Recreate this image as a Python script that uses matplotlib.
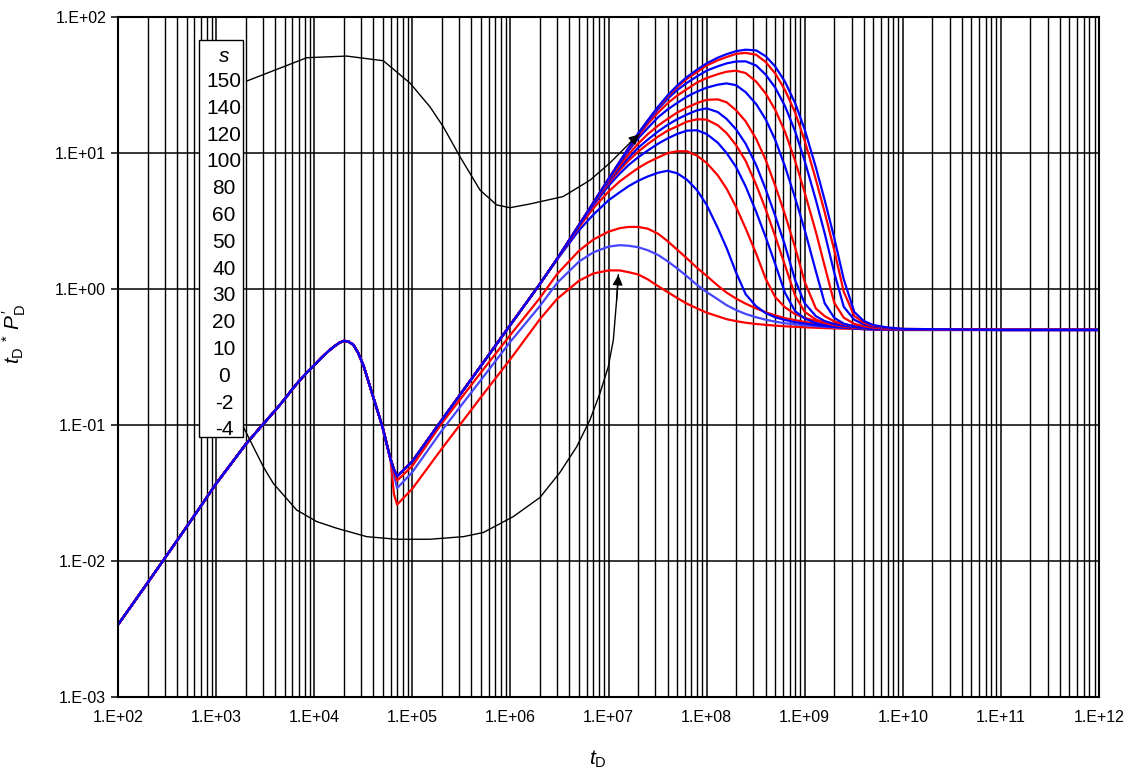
import numpy as np
import matplotlib
matplotlib.use("Agg")
import matplotlib.pyplot as plt
from matplotlib.ticker import FuncFormatter, LogLocator, NullFormatter
from matplotlib.patches import Rectangle

plt.rcParams['font.family'] = ['Liberation Sans', 'DejaVu Sans']
plt.rcParams['mathtext.fontset'] = 'custom'
plt.rcParams['mathtext.rm'] = 'Liberation Sans'
plt.rcParams['mathtext.it'] = 'Liberation Sans:italic'

# skin values, label order in the box (top to bottom)
s_labels = ['150', '140', '120', '100', '80', '60', '50', '40', '30', '20', '10', '0', '-2', '-4']

# common early part (all curves overlap)
head_t = [1e2, 2e2, 5e2, 1e3, 2e3, 3e3, 4e3, 5e3, 6e3, 7e3, 8.5e3, 1e4, 1.2e4, 1.4e4,
          1.6e4, 1.8e4, 2e4, 2.2e4, 2.5e4, 2.8e4, 3.2e4, 3.6e4, 4e4, 4.5e4, 5e4, 5.5e4, 6e4]
head_y = [0.0034, 0.0069, 0.0178, 0.037, 0.072, 0.101, 0.128, 0.155, 0.184, 0.21, 0.245,
          0.275, 0.315, 0.35, 0.378, 0.402, 0.415, 0.413, 0.39, 0.34, 0.27, 0.205, 0.16,
          0.122, 0.095, 0.072, 0.056]

# later part, read per curve on this tD grid
tail_t = [6.5e4, 7e4, 1e5, 2e5, 5e5, 1e6, 2e6, 3e6, 5e6, 7e6, 1e7, 1.3e7, 1.6e7, 2e7,
          2.5e7, 3.2e7, 4e7, 5e7, 6.3e7, 8e7, 1e8, 1.3e8, 1.6e8, 2e8, 2.5e8, 3.2e8, 4e8,
          5e8, 6.3e8, 8e8, 1e9, 1.3e9, 1.6e9, 2e9, 2.5e9, 3.2e9, 4e9, 5e9, 7e9, 1e10,
          1e11, 1e12]

y_s150 = [0.047, 0.042, 0.054, 0.109, 0.272, 0.545, 1.09, 1.67, 2.95, 4.3, 6.43, 8.61,
          10.9, 13.9, 17.3, 21.9, 26.5, 31.3, 36.2, 41.0, 45.6, 50.2, 53.3, 56.1, 57.5,
          56.8, 51.5, 43.3, 33.4, 23.2, 14.9, 7.83, 4.49, 2.38, 1.18, 0.678, 0.582, 0.543,
          0.521, 0.509, 0.5, 0.5]
y_s140 = [0.047, 0.042, 0.054, 0.109, 0.272, 0.545, 1.09, 1.67, 2.95, 4.3, 6.43, 8.61,
          10.9, 13.8, 17.2, 21.6, 25.9, 30.5, 35.1, 39.4, 44.0, 48.0, 50.8, 53.6, 54.5,
          52.8, 46.7, 38.5, 29.0, 19.8, 12.3, 6.37, 3.66, 1.93, 0.955, 0.634, 0.565,
          0.536, 0.518, 0.509, 0.5, 0.5]
y_s120 = [0.047, 0.042, 0.054, 0.109, 0.272, 0.545, 1.09, 1.67, 2.95, 4.3, 6.43, 8.61,
          10.8, 13.6, 16.9, 21.0, 25.0, 29.0, 32.8, 36.6, 40.3, 43.4, 45.6, 47.1, 47.2,
          44.0, 37.7, 30.3, 22.1, 14.4, 8.75, 4.51, 2.56, 1.32, 0.74, 0.594, 0.55, 0.53,
          0.515, 0.507, 0.5, 0.5]
y_s100 = [0.047, 0.042, 0.054, 0.109, 0.272, 0.545, 1.09, 1.67, 2.95, 4.3, 6.43, 8.59,
          10.7, 13.3, 16.3, 19.8, 23.2, 26.4, 29.5, 33.0, 35.6, 38.0, 39.6, 40.3, 38.7,
          33.5, 27.4, 20.8, 14.3, 8.73, 5.12, 2.63, 1.47, 0.794, 0.615, 0.555, 0.532,
          0.52, 0.509, 0.505, 0.5, 0.5]
y_s80 = [0.047, 0.042, 0.054, 0.109, 0.272, 0.545, 1.09, 1.67, 2.95, 4.3, 6.43, 8.45,
         10.4, 12.8, 15.2, 18.3, 20.9, 23.3, 26.0, 28.3, 30.2, 31.8, 32.5, 31.5, 28.0,
         22.9, 17.7, 12.5, 7.96, 4.66, 2.72, 1.35, 0.785, 0.614, 0.556, 0.532, 0.519,
         0.513, 0.505, 0.502, 0.5, 0.5]
y_s60 = [0.047, 0.042, 0.054, 0.109, 0.272, 0.545, 1.09, 1.67, 2.95, 4.3, 6.28, 8.11,
         9.75, 11.7, 13.7, 15.9, 17.8, 19.8, 21.6, 23.3, 24.6, 24.8, 23.6, 20.6, 17.1,
         12.7, 8.91, 5.77, 3.52, 2.01, 1.13, 0.718, 0.631, 0.578, 0.551, 0.532, 0.522,
         0.515, 0.506, 0.501, 0.5, 0.5]
y_s50 = [0.047, 0.042, 0.054, 0.109, 0.272, 0.545, 1.09, 1.67, 2.95, 4.27, 6.14, 7.78,
         9.2, 10.9, 12.5, 14.4, 16.1, 17.7, 19.2, 20.6, 21.3, 20.0, 17.8, 14.9, 11.7,
         8.15, 5.42, 3.46, 2.09, 1.16, 0.785, 0.631, 0.581, 0.553, 0.536, 0.525, 0.515,
         0.508, 0.503, 0.5, 0.5, 0.5]
y_s40 = [0.047, 0.042, 0.054, 0.109, 0.272, 0.545, 1.09, 1.67, 2.95, 4.23, 6.0, 7.48,
         8.79, 10.2, 11.6, 13.2, 14.6, 15.7, 17.0, 17.7, 17.6, 16.0, 14.0, 11.4, 8.75,
         5.85, 3.86, 2.45, 1.49, 0.891, 0.679, 0.596, 0.562, 0.543, 0.528, 0.518, 0.512,
         0.506, 0.502, 0.5, 0.5, 0.5]
y_s30 = [0.047, 0.042, 0.054, 0.109, 0.272, 0.545, 1.09, 1.67, 2.93, 4.13, 5.73, 7.05,
         8.15, 9.29, 10.4, 11.7, 12.8, 13.8, 14.6, 14.7, 13.8, 11.9, 10.0, 7.87, 5.68,
         3.70, 2.41, 1.53, 0.936, 0.686, 0.607, 0.562, 0.545, 0.528, 0.521, 0.513, 0.506,
         0.503, 0.5, 0.5, 0.5, 0.5]
y_s20 = [0.047, 0.042, 0.054, 0.109, 0.272, 0.545, 1.09, 1.67, 2.85, 3.92, 5.2, 6.18,
         6.9, 7.74, 8.51, 9.27, 9.98, 10.3, 10.3, 9.55, 8.46, 6.85, 5.46, 4.0, 2.79, 1.82,
         1.19, 0.873, 0.733, 0.653, 0.614, 0.582, 0.568, 0.555, 0.542, 0.533, 0.526,
         0.521, 0.513, 0.507, 0.5, 0.5]
y_s10 = [0.047, 0.042, 0.054, 0.109, 0.272, 0.545, 1.09, 1.65, 2.70, 3.52, 4.49, 5.14,
         5.70, 6.24, 6.71, 7.16, 7.4, 7.1, 6.37, 5.32, 4.16, 2.81, 2.0, 1.32, 0.916,
         0.746, 0.665, 0.619, 0.592, 0.57, 0.557, 0.543, 0.533, 0.527, 0.522, 0.516,
         0.512, 0.508, 0.505, 0.502, 0.5, 0.5]
y_s0 = [0.045, 0.039, 0.05, 0.103, 0.243, 0.46, 0.86, 1.29, 1.91, 2.31, 2.64, 2.8, 2.86,
        2.86, 2.78, 2.55, 2.25, 1.95, 1.68, 1.43, 1.25, 1.06, 0.94, 0.85, 0.78, 0.72,
        0.675, 0.64, 0.61, 0.59, 0.572, 0.556, 0.546, 0.538, 0.531, 0.524, 0.519, 0.515,
        0.51, 0.506, 0.5, 0.5]
y_sm2 = [0.043, 0.0343, 0.045, 0.091, 0.214, 0.41, 0.75, 1.11, 1.59, 1.86, 2.05, 2.1,
         2.08, 2.03, 1.93, 1.78, 1.6, 1.42, 1.24, 1.07, 0.95, 0.84, 0.76, 0.7, 0.655, 0.62,
         0.595, 0.575, 0.56, 0.55, 0.54, 0.533, 0.527, 0.522, 0.518, 0.514, 0.511, 0.508,
         0.505, 0.503, 0.5, 0.5]
y_sm4 = [0.031, 0.026, 0.034, 0.067, 0.16, 0.305, 0.60, 0.847, 1.15, 1.30, 1.37, 1.37,
         1.33, 1.28, 1.18, 1.05, 0.95, 0.86, 0.78, 0.72, 0.67, 0.63, 0.6, 0.58, 0.565,
         0.553, 0.545, 0.538, 0.532, 0.527, 0.523, 0.519, 0.516, 0.513, 0.511, 0.509,
         0.507, 0.505, 0.503, 0.502, 0.5, 0.5]

# hand-drawn pointer lines (in data units)
upper_t = [2.05e3, 8.4e3, 2.14e4, 5.06e4, 9.5e4, 1.51e5, 2.07e5, 3.06e5, 4.9e5, 7.25e5,
           9.9e5, 1.58e6, 3.44e6, 6.5e6, 1.03e7, 1.66e7, 2.06e7]
upper_y = [33.8, 50.2, 51.6, 47.7, 32.6, 21.9, 15.6, 9.4, 5.34, 4.15, 3.96, 4.22, 4.78,
           6.32, 8.43, 11.9, 13.7]
lower_t = [1.89e3, 3.03e3, 3.83e3, 6.63e3, 1.06e4, 1.7e4, 3.43e4, 6.93e4, 1.51e5, 3.31e5,
           5.3e5, 1.07e6, 2.0e6, 3.2e6, 4.74e6, 6.47e6, 8.18e6, 9.95e6, 1.12e7, 1.21e7,
           1.26e7]
lower_y = [0.0972, 0.0493, 0.0372, 0.0237, 0.0195, 0.0174, 0.0151, 0.01445, 0.01445,
           0.0151, 0.0162, 0.0212, 0.0293, 0.0448, 0.0692, 0.109, 0.171, 0.268, 0.422,
           0.83, 1.27]

# drawing order: lowest skin first, highest on top
curves = [(y_sm4, 'red'), (y_sm2, '#4646FF'), (y_s0, 'red'), (y_s10, 'blue'),
          (y_s20, 'red'), (y_s30, 'blue'), (y_s40, 'red'), (y_s50, 'blue'),
          (y_s60, 'red'), (y_s80, 'blue'), (y_s100, 'red'), (y_s120, 'blue'),
          (y_s140, 'red'), (y_s150, 'blue')]

W, H = 1131, 774
fig = plt.figure(figsize=(W / 100, H / 100), dpi=100)
ax = fig.add_axes([118 / W, 77 / H, 981 / W, 680 / H])

for yv, col in curves:
    ax.plot(head_t + tail_t, head_y + yv, color=col, lw=1.6, solid_joinstyle='round')

ax.plot(upper_t, upper_y, color='black', lw=1.0)
ax.plot(lower_t, lower_y, color='black', lw=1.0)
ax.annotate('', xy=(upper_t[-1], upper_y[-1]), xytext=(upper_t[-2], upper_y[-2]),
            arrowprops=dict(arrowstyle='-|>', color='black', lw=1.0, mutation_scale=15,
                            shrinkA=0, shrinkB=0))
ax.annotate('', xy=(lower_t[-1], lower_y[-1]), xytext=(lower_t[-2], lower_y[-2]),
            arrowprops=dict(arrowstyle='-|>', color='black', lw=1.0, mutation_scale=15,
                            shrinkA=0, shrinkB=0))

ax.set_xscale('log')
ax.set_yscale('log')
ax.set_xlim(1e2, 1e12)
ax.set_ylim(1e-3, 1e2)

ax.xaxis.set_major_locator(LogLocator(base=10, numticks=20))
ax.xaxis.set_minor_locator(LogLocator(base=10, subs=range(2, 10), numticks=200))
ax.xaxis.set_minor_formatter(NullFormatter())
ax.yaxis.set_major_locator(LogLocator(base=10, numticks=20))
ax.yaxis.set_minor_locator(LogLocator(base=10, subs=[], numticks=20))
fmt = FuncFormatter(lambda v, p: '1.E%+03d' % int(round(np.log10(v))))
ax.xaxis.set_major_formatter(fmt)
ax.yaxis.set_major_formatter(fmt)

ax.grid(True, which='major', axis='both', color='black', lw=1.1)
ax.grid(True, which='minor', axis='x', color='black', lw=1.0)
ax.tick_params(axis='both', which='major', labelsize=11.5, length=5, width=1.1,
               color='black')
ax.tick_params(axis='x', which='major', length=0, pad=9)
ax.tick_params(axis='x', which='minor', length=0)
ax.tick_params(axis='y', which='minor', length=0)
for sp in ax.spines.values():
    sp.set_linewidth(1.5)

ax.set_xlabel(r'$t_{\rm D}$', fontsize=15)
ax.xaxis.set_label_coords(0.489, -0.076)
ax.set_ylabel(r'$t_{\rm D}$ $^{*}$ $P^{\prime}_{\rm D}$', fontsize=15)
ax.yaxis.set_label_coords(-0.092, 0.535)

# label box for the skin values
box = Rectangle((199 / W, 1 - 437 / H), 44 / W, 397 / H, transform=fig.transFigure,
                facecolor='white', edgecolor='black', lw=1.0, zorder=5)
fig.add_artist(box)
fig.text(224 / W, 1 - 57 / H, 's', fontsize=15, style='italic', ha='center', va='center',
         zorder=6)
for i, lab in enumerate(s_labels):
    fig.text(224 / W, 1 - (81.5 + i * 26.8) / H, lab, fontsize=15, ha='center',
             va='center', zorder=6)

fig.savefig('out.png', dpi=100)
